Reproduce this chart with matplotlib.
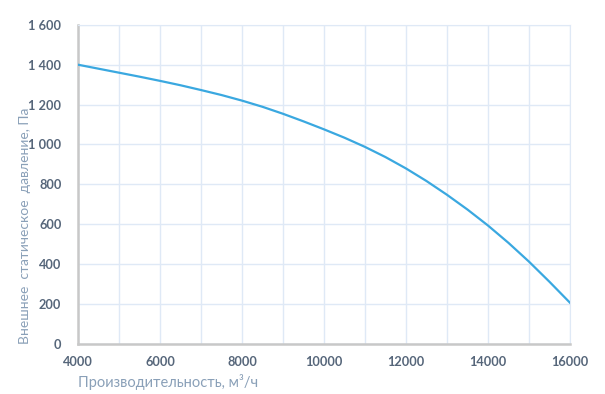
import numpy as np
import matplotlib
matplotlib.use('Agg')
import matplotlib.pyplot as plt
from matplotlib.ticker import FuncFormatter, MultipleLocator

# flow rate, m3/h and external static pressure, Pa
flow = [4000, 4500, 5000, 5500, 6000, 6500, 7000, 7500, 8000, 8500, 9000, 9500, 10000,
        10500, 11000, 11500, 12000, 12500, 13000, 13500, 14000, 14500, 15000, 15500, 16000]
pressure = [1400, 1380, 1360, 1340, 1319, 1297, 1273, 1248, 1220, 1189, 1154, 1116, 1076,
            1034, 988, 937, 880, 817, 748, 674, 594, 507, 413, 312, 207]

xticks = [4000, 6000, 8000, 10000, 12000, 14000, 16000]
yticks = [0, 200, 400, 600, 800, 1000, 1200, 1400, 1600]

plt.rcParams['font.family'] = ['Lato', 'DejaVu Sans']

fig = plt.figure(figsize=(6.05, 3.94), dpi=100)
ax = fig.add_axes([0.129, 0.127, 0.813, 0.810])

ax.plot(flow, pressure, color='#3aa8e0', lw=1.6, zorder=3, solid_joinstyle='round')

ax.set_xlim(4000, 16000)
ax.set_ylim(0, 1600)
ax.set_xticks(xticks)
ax.set_yticks(yticks)
ax.xaxis.set_minor_locator(MultipleLocator(1000))
ax.yaxis.set_major_formatter(FuncFormatter(lambda v, p: '{:,.0f}'.format(v).replace(',', '\u2005')))

ax.grid(which='both', color='#dfe9f6', lw=1.0, zorder=0)
for s in ['top', 'right']:
    ax.spines[s].set_color('#dfe9f6')
for s in ['left', 'bottom']:
    ax.spines[s].set_color('#c8c8c8')
    ax.spines[s].set_linewidth(1.8)

ax.tick_params(which='both', length=0)
ax.tick_params(axis='y', pad=12)
ax.tick_params(axis='x', pad=9)
for lab in ax.get_xticklabels() + ax.get_yticklabels():
    lab.set_color('#56667a')
    lab.set_fontsize(9.2)
    lab.set_fontweight('bold')

ax.set_xlabel('Производительность, м³/ч', color='#8aa0b8', fontsize=10.5, ha='left', va='center')
ax.xaxis.set_label_coords(0.0, -0.119)
ax.set_ylabel('Внешнее  статическое  давление, Па', color='#8aa0b8', fontsize=10, va='center')
ax.yaxis.set_label_coords(-0.108, 0.369)

fig.savefig('out.png', dpi=100)
